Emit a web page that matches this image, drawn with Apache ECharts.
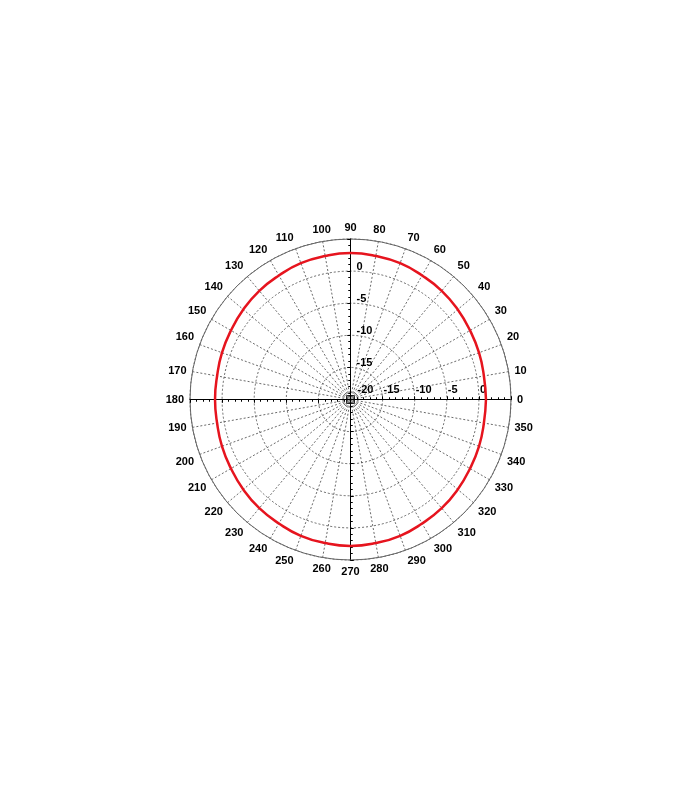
<!DOCTYPE html>
<html>
<head>
<meta charset="utf-8">
<script src="https://cdn.jsdelivr.net/npm/echarts@6/dist/echarts.min.js"></script>
<style>
html,body{margin:0;padding:0;background:#fff;}
#chart{width:700px;height:800px;}
</style>
</head>
<body>
<div id="chart"></div>
<script>
// Data
const angles = [0,10,20,30,40,50,60,70,80,90,100,110,120,130,140,150,160,170,180,190,200,210,220,230,240,250,260,270,280,290,300,310,320,330,340,350,360];
const gainDb = [1.1,1.1,1.3,1.5,1.8,2.1,2.3,2.6,2.7,2.8,2.7,2.6,2.3,2.1,1.8,1.5,1.3,1.1,1.1,1.1,1.3,1.5,1.8,2.1,2.3,2.6,2.7,2.8,2.7,2.6,2.3,2.1,1.8,1.5,1.3,1.1,1.1];
const radialTicksHoriz = ['-20','-15','-10','-5','0'];
const radialTicksVert = ['-15','-10','-5','0'];
const radiusMin = -20, radiusMax = 5, radiusStep = 5;
const angleStep = 10;

const chart = echarts.init(document.getElementById('chart'));
const C = [350.5, 399.5], R = 160.5;
const FONT = 'Liberation Sans, Arial, sans-serif';
const LBL = {color: '#000', fontWeight: 'bold', fontSize: 11, fontFamily: FONT};

const polar = [], angleAxis = [], radiusAxis = [];
function addPolar(startAngle, inside, labelOpt, main) {
  polar.push({center: C, radius: R});
  const idx = polar.length - 1;
  angleAxis.push({
    polarIndex: idx, type: 'value', min: 0, max: 360, interval: angleStep,
    startAngle: startAngle, clockwise: false,
    show: !!main,
    axisLine: {show: !!main, lineStyle: {color: '#666', width: 1}},
    axisTick: {show: false},
    axisLabel: Object.assign({show: !!main, margin: 6,
      formatter: v => (v >= 360 ? '' : String(v))}, LBL),
    splitLine: {show: !!main, lineStyle: {color: '#444', type: [2, 2], width: 0.8}}
  });
  radiusAxis.push({
    polarIndex: idx, type: 'value', min: radiusMin, max: radiusMax, interval: radiusStep,
    axisLine: {show: true, lineStyle: {color: '#000', width: 1}},
    axisTick: {show: true, inside: inside, length: 3, lineStyle: {color: '#000'}},
    minorTick: {show: true, splitNumber: 5, length: 2, lineStyle: {color: '#000'}},
    axisLabel: labelOpt ? Object.assign({show: true}, LBL, labelOpt) : {show: false},
    splitLine: {show: !!main, lineStyle: {color: '#444', type: [2, 2], width: 0.8}}
  });
}
addPolar(0, false, {
  margin: 4, align: 'left', verticalAlign: 'bottom',
  formatter: v => {
    const s = String(v);
    if (radialTicksHoriz.indexOf(s) < 0) return '';
    return s === String(radiusMin) ? '{p|' + s + '}' : '{n|' + s + '}';
  },
  rich: {
    p: Object.assign({padding: [0, 0, 0, 7]}, LBL),
    n: Object.assign({padding: [0, 0, 0, 1]}, LBL)
  }
}, true);
addPolar(0, true, null, false);
addPolar(90, false, {
  margin: -6, align: 'left', verticalAlign: 'middle',
  formatter: v => (radialTicksVert.indexOf(String(v)) >= 0 ? '{v|' + v + '}' : ''),
  rich: {v: Object.assign({padding: [0, 0, 8, 0]}, LBL)}
}, false);
addPolar(90, true, null, false);
addPolar(180, false, null, false);
addPolar(180, true, null, false);
addPolar(270, false, null, false);
addPolar(270, true, null, false);

chart.setOption({
  animation: false,
  backgroundColor: '#fff',
  polar: polar,
  angleAxis: angleAxis,
  radiusAxis: radiusAxis,
  series: [
    {
      type: 'line', coordinateSystem: 'polar', polarIndex: 0,
      data: angles.map((a, i) => [gainDb[i], a]),
      showSymbol: false, symbol: 'none', smooth: true,
      lineStyle: {color: '#e6141e', width: 2.5}
    },
    {
      type: 'scatter', coordinateSystem: 'polar', polarIndex: 0,
      data: [[radiusMin, 0]], symbol: 'rect', symbolSize: 8,
      itemStyle: {color: 'rgba(0,0,0,0)', borderColor: '#000', borderWidth: 1}
    },
    {
      type: 'scatter', coordinateSystem: 'polar', polarIndex: 0,
      data: [[radiusMin, 0]], symbol: 'circle', symbolSize: 3,
      itemStyle: {color: '#000'}
    }
  ]
});
</script>
</body>
</html>
